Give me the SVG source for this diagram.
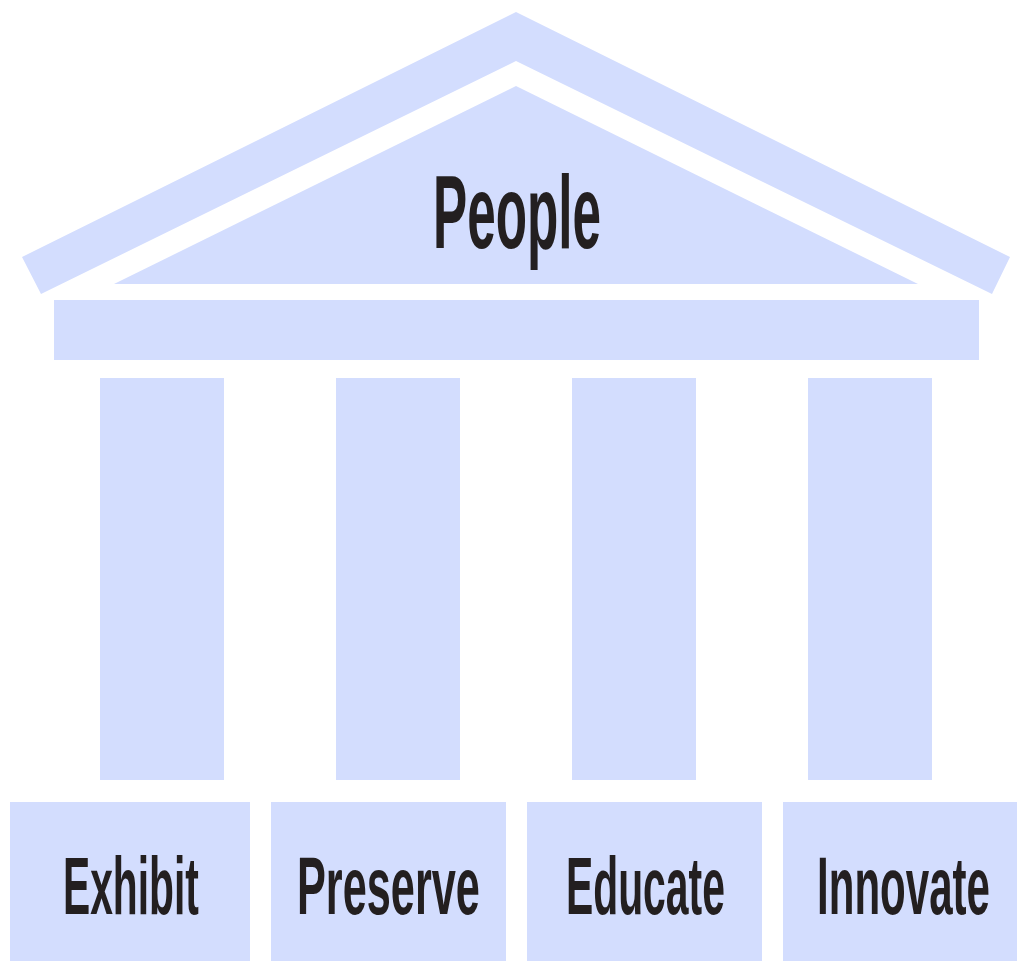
<svg xmlns="http://www.w3.org/2000/svg" width="1017" height="961" viewBox="0 0 1017 961">
<style>
.s{fill:#D3DDFE}
.t{font-family:"Liberation Sans",Arial,sans-serif;font-weight:bold;fill:#231F20}
</style>
<rect width="1017" height="961" fill="#ffffff"/>
<g id="roof">
<polygon class="s" points="516,12 1010,257 992,294 516,61 41,294 22,257"/>
<polygon class="s" points="516,86 918,284 114,284"/>
<text class="t" transform="translate(433,248) scale(0.493,1)" font-size="104">People</text>
</g>
<g id="entablature"><rect class="s" x="54" y="300" width="925" height="60"/></g>
<g id="columns">
<rect class="s" x="100" y="378" width="124" height="402"/>
<rect class="s" x="336" y="378" width="124" height="402"/>
<rect class="s" x="572" y="378" width="124" height="402"/>
<rect class="s" x="808" y="378" width="124" height="402"/>
</g>
<g id="exhibit"><rect class="s" x="10" y="802" width="240" height="159"/><text class="t" transform="translate(63,914) scale(0.497,1)" font-size="82">Exhibit</text></g>
<g id="preserve"><rect class="s" x="271" y="802" width="235" height="159"/><text class="t" transform="translate(297,914) scale(0.528,1)" font-size="82">Preserve</text></g>
<g id="educate"><rect class="s" x="527" y="802" width="235" height="159"/><text class="t" transform="translate(566,914) scale(0.498,1)" font-size="82">Educate</text></g>
<g id="innovate"><rect class="s" x="783" y="802" width="234" height="159"/><text class="t" transform="translate(817,914) scale(0.513,1)" font-size="82">Innovate</text></g>
<g id="connectors"/>
</svg>
